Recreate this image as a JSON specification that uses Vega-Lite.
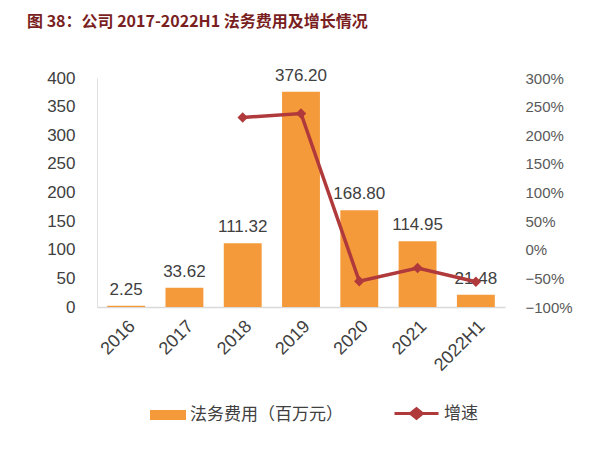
{
  "$schema": "https://vega.github.io/schema/vega-lite/v6.json",
  "width": 408,
  "height": 229,
  "autosize": "none",
  "padding": {"left": 97, "top": 78, "right": 95, "bottom": 144},
  "background": "white",
  "title": {
    "text": "图 38：公司 2017-2022H1 法务费用及增长情况",
    "anchor": "start",
    "frame": "group",
    "dx": -70,
    "offset": 37,
    "font": "Noto Sans CJK SC",
    "fontSize": 16,
    "fontWeight": "bold",
    "color": "#7A1F1F"
  },
  "config": {"view": {"stroke": null}},
  "data": {
    "values": [
      {"year": "2016", "fee": 2.25, "growth": null},
      {"year": "2017", "fee": 33.62, "growth": null},
      {"year": "2018", "fee": 111.32, "growth": 2.31},
      {"year": "2019", "fee": 376.2, "growth": 2.38},
      {"year": "2020", "fee": 168.8, "growth": -0.55},
      {"year": "2021", "fee": 114.95, "growth": -0.32},
      {"year": "2022H1", "fee": 21.48, "growth": -0.56}
    ]
  },
  "encoding": {
    "x": {
      "field": "year",
      "type": "ordinal",
      "sort": null,
      "title": null,
      "scale": {"paddingInner": 0.35, "paddingOuter": 0.175},
      "axis": {
        "labelAngle": -45,
        "labelFont": "Liberation Sans",
        "labelFontSize": 18,
        "labelColor": "#404040",
        "labelPadding": 10,
        "ticks": false,
        "domainColor": "#d9d9d9",
        "domainWidth": 1.5
      }
    }
  },
  "layer": [
    {
      "mark": {"type": "bar"},
      "encoding": {
        "y": {
          "field": "fee",
          "type": "quantitative",
          "title": null,
          "scale": {"domain": [0, 400]},
          "axis": {
            "values": [0, 50, 100, 150, 200, 250, 300, 350, 400],
            "grid": false,
            "ticks": false,
            "labelFont": "Liberation Sans",
            "labelFontSize": 17,
            "labelColor": "#404040",
            "labelPadding": 22,
            "domainColor": "#e0e0e0"
          }
        },
        "fill": {
          "datum": "法务费用（百万元）",
          "type": "nominal",
          "scale": {"range": ["#F59A3B"]},
          "legend": {
            "orient": "none",
            "legendX": 53,
            "legendY": 319,
            "title": null,
            "symbolType": "M-1,-0.28H1V0.28H-1Z",
            "symbolSize": 1296,
            "symbolStrokeWidth": 0,
            "labelFont": "Noto Sans CJK SC",
            "labelFontSize": 17,
            "labelColor": "#404040",
            "labelOffset": 4
          }
        }
      }
    },
    {
      "mark": {
        "type": "text",
        "baseline": "bottom",
        "dy": -7,
        "font": "Liberation Sans",
        "fontSize": 17,
        "color": "#404040"
      },
      "encoding": {
        "y": {"field": "fee", "type": "quantitative", "scale": {"domain": [0, 400]}, "axis": null},
        "text": {"field": "fee", "type": "quantitative", "format": ".2f"}
      }
    },
    {
      "encoding": {
        "y": {
          "field": "growth",
          "type": "quantitative",
          "title": null,
          "scale": {"domain": [-1, 3]},
          "axis": {
            "orient": "right",
            "format": ".0%",
            "values": [-1, -0.5, 0, 0.5, 1, 1.5, 2, 2.5, 3],
            "grid": false,
            "ticks": false,
            "domain": false,
            "labelFont": "Liberation Sans",
            "labelFontSize": 15,
            "labelColor": "#595959",
            "labelPadding": 20
          }
        }
      },
      "layer": [
        {
          "mark": {"type": "line", "strokeWidth": 3.5},
          "encoding": {
            "stroke": {
              "datum": "增速",
              "type": "nominal",
              "scale": {"range": ["#B0393B"]},
              "legend": {
                "orient": "none",
                "legendX": 296,
                "legendY": 312,
                "title": null,
                "symbolType": "M-1,0H1M-0.27,0L0,-0.22L0.27,0L0,0.22Z",
                "symbolSize": 1936,
                "symbolStrokeWidth": 3,
                "symbolFillColor": "#B0393B",
                "labelFont": "Noto Sans CJK SC",
                "labelFontSize": 17,
                "labelColor": "#404040",
                "labelOffset": 4
              }
            }
          }
        },
        {
          "mark": {"type": "point", "shape": "diamond", "filled": true, "size": 110, "color": "#B0393B", "opacity": 1}
        }
      ]
    }
  ],
  "resolve": {"scale": {"y": "independent", "fill": "independent", "stroke": "independent"}}
}
